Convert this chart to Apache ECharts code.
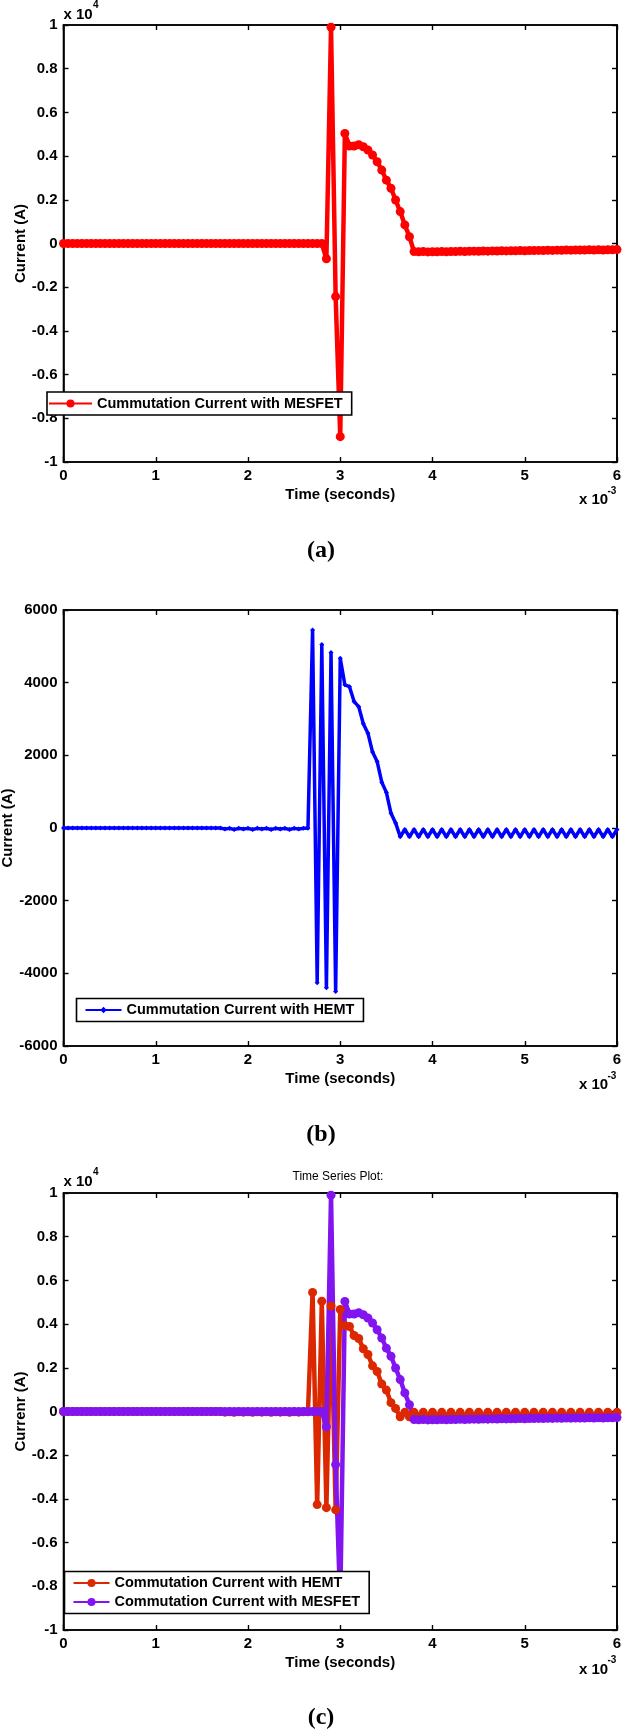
<!DOCTYPE html>
<html>
<head>
<meta charset="utf-8">
<script src="https://cdn.jsdelivr.net/npm/echarts@6/dist/echarts.min.js"></script>
<style>
  html, body { margin: 0; padding: 0; background: #fff; }
  #chart { width: 622px; height: 1731px; }
</style>
</head>
<body>
<div id="chart"></div>
<script>
// time axis, in units of 1e-3 s (as printed on the axis)
var timeMs = [
  0, 0.05, 0.1, 0.15, 0.2, 0.25, 0.3, 0.35, 0.4, 0.45,
  0.5, 0.55, 0.6, 0.65, 0.7, 0.75, 0.8, 0.85, 0.9, 0.95,
  1, 1.05, 1.1, 1.15, 1.2, 1.25, 1.3, 1.35, 1.4, 1.45,
  1.5, 1.55, 1.6, 1.65, 1.7, 1.75, 1.8, 1.85, 1.9, 1.95,
  2, 2.05, 2.1, 2.15, 2.2, 2.25, 2.3, 2.35, 2.4, 2.45,
  2.5, 2.55, 2.6, 2.65, 2.7, 2.75, 2.8, 2.85, 2.9, 2.95,
  3, 3.05, 3.1, 3.15, 3.2, 3.25, 3.3, 3.35, 3.4, 3.45,
  3.5, 3.55, 3.6, 3.65, 3.7, 3.75, 3.8, 3.85, 3.9, 3.95,
  4, 4.05, 4.1, 4.15, 4.2, 4.25, 4.3, 4.35, 4.4, 4.45,
  4.5, 4.55, 4.6, 4.65, 4.7, 4.75, 4.8, 4.85, 4.9, 4.95,
  5, 5.05, 5.1, 5.15, 5.2, 5.25, 5.3, 5.35, 5.4, 5.45,
  5.5, 5.55, 5.6, 5.65, 5.7, 5.75, 5.8, 5.85, 5.9, 5.95,
  6
]

// commutation current with MESFET (A)
var mesfetCurrent = [
  0, 0, 0, 0, 0, 0, 0, 0, 0, 0,
  0, 0, 0, 0, 0, 0, 0, 0, 0, 0,
  0, 0, 0, 0, 0, 0, 0, 0, 0, 0,
  0, 0, 0, 0, 0, 0, 0, 0, 0, 0,
  0, 0, 0, 0, 0, 0, 0, 0, 0, 0,
  0, 0, 0, 0, 0, 0, 0, -700, 9900, -2430,
  -8840, 5040, 4460, 4460, 4520, 4430, 4280, 4050, 3740, 3360,
  2900, 2530, 1990, 1460, 850, 310, -370, -380, -370, -385,
  -375, -380, -370, -375, -365, -370, -360, -365, -355, -350,
  -355, -345, -350, -340, -345, -335, -340, -330, -335, -325,
  -330, -320, -325, -315, -320, -310, -315, -305, -310, -300,
  -305, -300, -295, -300, -290, -295, -290, -295, -285, -290,
  -280
]

// commutation current with HEMT (A)
var hemtCurrent = [
  0, 0, 0, 0, 0, 0, 0, 0, 0, 0,
  0, 0, 0, 0, 0, 0, 0, 0, 0, 0,
  0, 0, 0, 0, 0, 0, 0, 0, 0, 0,
  0, 0, 0, 0, 0, -30, -10, -40, -10, -30,
  -10, -40, -10, -30, -10, -40, -10, -30, -10, -40,
  -10, -30, -10, -10, 5450, -4260, 5050, -4400, 4830, -4500,
  4670, 3940, 3890, 3480, 3340, 2870, 2610, 2090, 1830, 1260,
  980, 405, 140, -240, -40, -240, -40, -240, -40, -240,
  -40, -240, -40, -240, -40, -240, -40, -240, -40, -240,
  -40, -240, -40, -240, -40, -240, -40, -240, -40, -240,
  -40, -240, -40, -240, -40, -240, -40, -240, -40, -240,
  -40, -240, -40, -240, -40, -240, -40, -240, -40, -240,
  -40
]

var FONT = "'Liberation Sans', Arial, sans-serif"

function pairs(values) {
  return timeMs.map(function(t, i) { return [t, values[i]] })
}

// one panel = one grid with a box of four axes
var panels = [
  { top: 25, height: 437, min: -10000, max: 10000, step: 2000, div: 1e4, yName: 'Current (A)', nameGap: 35 },
  { top: 610, height: 436, min: -6000, max: 6000, step: 2000, div: 1, yName: 'Current (A)', nameGap: 48 },
  { top: 1193, height: 437, min: -10000, max: 10000, step: 2000, div: 1e4, yName: 'Currenr (A)', nameGap: 35 }
]

var grids = []
var xAxes = []
var yAxes = []
var axisLine = { show: true, onZero: false, lineStyle: { color: '#000', width: 1.6 } }
var tick = { show: true, inside: true, length: 5, lineStyle: { color: '#000', width: 1.4 } }
var label = { color: '#000', fontFamily: FONT, fontWeight: 'bold', fontSize: 15 }

panels.forEach(function(p, i) {
  grids.push({
    left: 63.5, width: 553.5, top: p.top, height: p.height,
    outerBoundsMode: 'none', containLabel: false,
    show: true, borderColor: '#000', borderWidth: 1.6, backgroundColor: '#fff'
  })
  xAxes.push({
    gridIndex: i, type: 'value', min: 0, max: 6, interval: 1, position: 'bottom',
    axisLine: axisLine, axisTick: tick, splitLine: { show: false },
    axisLabel: Object.assign({ margin: 6 }, label),
    name: 'Time (seconds)', nameLocation: 'middle', nameGap: 25, nameMoveOverlap: false,
    nameTextStyle: { color: '#000', fontFamily: FONT, fontWeight: 'bold', fontSize: 15 }
  })
  xAxes.push({
    gridIndex: i, type: 'value', min: 0, max: 6, interval: 1, position: 'top',
    axisLine: axisLine, axisTick: tick, splitLine: { show: false }, axisLabel: { show: false }
  })
  yAxes.push({
    gridIndex: i, type: 'value', min: p.min, max: p.max, interval: p.step, position: 'left',
    axisLine: axisLine, axisTick: tick, splitLine: { show: false },
    axisLabel: Object.assign({
      margin: 6,
      formatter: function(v) { return String(+(v / p.div).toFixed(1)) }
    }, label),
    name: p.yName, nameLocation: 'middle', nameGap: p.nameGap, nameMoveOverlap: false,
    nameTextStyle: { color: '#000', fontFamily: FONT, fontWeight: 'bold', fontSize: 15 }
  })
  yAxes.push({
    gridIndex: i, type: 'value', min: p.min, max: p.max, interval: p.step, position: 'right',
    axisLine: axisLine, axisTick: tick, splitLine: { show: false }, axisLabel: { show: false }
  })
})

var legendText = { color: '#000', fontFamily: FONT, fontWeight: 'bold', fontSize: 14.5 }

function txt(x, y, s, size, align, extra) {
  return {
    type: 'text', x: x, y: y, z: 100,
    style: Object.assign({
      text: s, fill: '#000', fontFamily: FONT, fontWeight: 'bold', fontSize: size,
      textAlign: align || 'left', textVerticalAlign: 'middle'
    }, extra || {})
  }
}

var chart = echarts.init(document.getElementById('chart'))
chart.setOption({
  animation: false,
  backgroundColor: '#fff',
  grid: grids,
  xAxis: xAxes,
  yAxis: yAxes,
  legend: [
    {
      data: ['Cummutation Current with MESFET'], left: 47, top: 392, orient: 'vertical',
      backgroundColor: '#fff', borderColor: '#000', borderWidth: 1.6, borderRadius: 0,
      padding: [4, 9, 4, 1], itemWidth: 43, itemHeight: 10, textStyle: legendText
    },
    {
      data: ['Cummutation Current with HEMT'], left: 76.5, top: 998.5, orient: 'vertical',
      backgroundColor: '#fff', borderColor: '#000', borderWidth: 1.6, borderRadius: 0,
      padding: [4, 9, 4, 8], itemWidth: 36, itemHeight: 8, textStyle: legendText
    },
    {
      data: ['Commutation Current with HEMT', 'Commutation Current with MESFET'], left: 64.5, top: 1571.5,
      orient: 'vertical', itemGap: 4,
      backgroundColor: '#fff', borderColor: '#000', borderWidth: 1.6, borderRadius: 0,
      padding: [4, 9, 4, 8], itemWidth: 36, itemHeight: 10, textStyle: legendText
    }
  ],
  series: [
    {
      name: 'Cummutation Current with MESFET', type: 'line', xAxisIndex: 0, yAxisIndex: 0,
      data: pairs(mesfetCurrent), color: '#ff0000',
      lineStyle: { width: 4.5 }, symbol: 'circle', symbolSize: 9
    },
    {
      name: 'Cummutation Current with HEMT', type: 'line', xAxisIndex: 2, yAxisIndex: 2,
      data: pairs(hemtCurrent), color: '#0000ff',
      lineStyle: { width: 3.5 }, symbol: 'diamond', symbolSize: 5
    },
    {
      name: 'Commutation Current with HEMT', type: 'line', xAxisIndex: 4, yAxisIndex: 4,
      data: pairs(hemtCurrent), color: '#dc2800',
      lineStyle: { width: 4.5 }, symbol: 'circle', symbolSize: 9
    },
    {
      name: 'Commutation Current with MESFET', type: 'line', xAxisIndex: 4, yAxisIndex: 4,
      data: pairs(mesfetCurrent), color: '#8214f0',
      lineStyle: { width: 4.5 }, symbol: 'circle', symbolSize: 9
    }
  ],
  graphic: [
    // exponent labels
    txt(63.5, 14.5, 'x 10', 15), txt(93, 5, '4', 10),
    txt(579, 500, 'x 10', 15), txt(607.5, 491, '-3', 10),
    txt(579, 1085, 'x 10', 15), txt(607.5, 1076, '-3', 10),
    txt(63.5, 1181.5, 'x 10', 15), txt(93, 1172, '4', 10),
    txt(579, 1669.5, 'x 10', 15), txt(607.5, 1660, '-3', 10),
    // panel title and captions
    txt(338, 1177, 'Time Series Plot:', 12, 'center', { fontWeight: 'normal' }),
    txt(321, 551, '(a)', 24, 'center', { fontFamily: "'Liberation Serif', 'Times New Roman', serif" }),
    txt(321, 1135, '(b)', 24, 'center', { fontFamily: "'Liberation Serif', 'Times New Roman', serif" }),
    txt(321, 1718, '(c)', 24, 'center', { fontFamily: "'Liberation Serif', 'Times New Roman', serif" })
  ]
})
</script>
</body>
</html>
